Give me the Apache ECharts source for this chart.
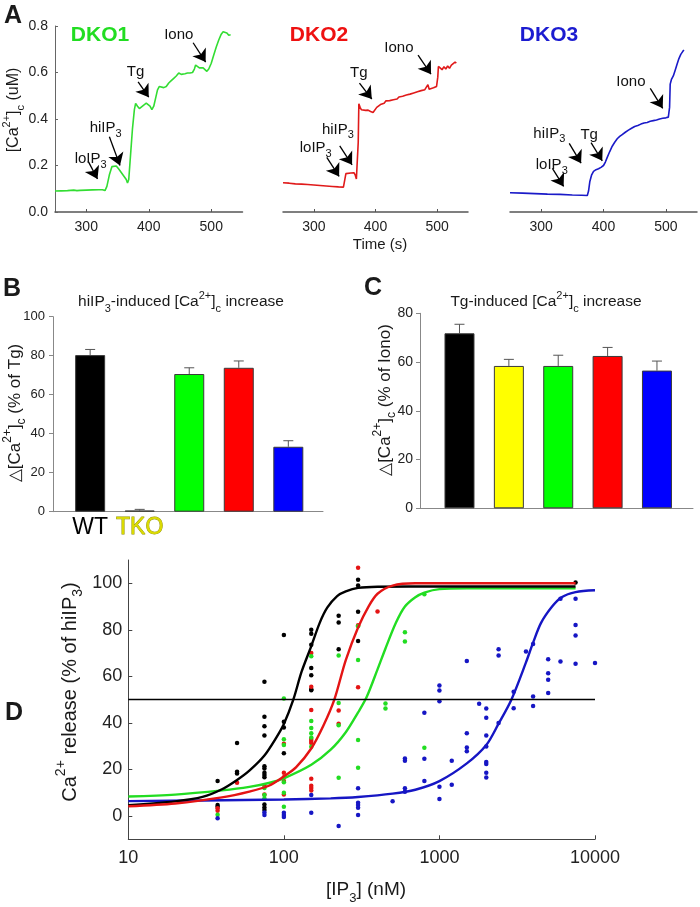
<!DOCTYPE html>
<html>
<head>
<meta charset="utf-8">
<script src="https://cdn.jsdelivr.net/npm/echarts@6.0.0/dist/echarts.min.js"></script>
<style>
html, body { margin: 0; padding: 0; background: #fff; }
#chart { width: 700px; height: 907px; }
</style>
</head>
<body>
<div id="chart"></div>
<script>
// ---- panel A: cytosolic Ca2+ traces [time (s), Ca (uM)] ----
var dko1Trace = [[250,0.090],[260,0.091],[270,0.092],[280,0.094],[285,0.092],[290,0.093],[300,0.094],[310,0.095],[320,0.096],[326,0.096],
  [330,0.092],[333,0.11],[337,0.16],[341,0.195],[344,0.203],[348,0.198],[352,0.185],[356,0.17],[360,0.155],[364,0.14],
  [366,0.125],[368,0.14],[371,0.25],[374,0.36],[377,0.44],[379,0.467],[382,0.455],[385,0.445],[388,0.45],[392,0.46],
  [396,0.468],[399,0.465],[402,0.455],[405,0.44],[408,0.455],[411,0.49],[414,0.525],[417,0.54],[420,0.545],[424,0.535],
  [428,0.54],[432,0.555],[436,0.565],[440,0.575],[444,0.585],[448,0.598],[452,0.592],[455,0.585],[458,0.595],[462,0.598],
  [466,0.598],[470,0.60],[473,0.615],[475,0.632],[478,0.625],[481,0.62],[484,0.618],[487,0.62],[490,0.612],[493,0.605],
  [496,0.615],[500,0.64],[504,0.675],[508,0.71],[512,0.74],[516,0.765],[519,0.775],[522,0.778],[525,0.77],[528,0.76],[531,0.762]];
var dko2Trace = [[250,0.126],[260,0.124],[270,0.121],[280,0.120],[290,0.118],[300,0.116],[310,0.114],[320,0.112],[330,0.110],[340,0.108],
  [348,0.107],[351,0.107],[352,0.165],[355,0.170],[360,0.168],[365,0.169],[367,0.160],[369,0.142],[371,0.140],[372,0.30],
  [373,0.466],[375,0.45],[377,0.44],[380,0.442],[384,0.437],[388,0.438],[392,0.432],[396,0.428],[399,0.43],[402,0.45],
  [405,0.455],[408,0.462],[411,0.47],[414,0.468],[417,0.478],[420,0.483],[423,0.479],[426,0.487],[429,0.483],[432,0.49],
  [435,0.486],[438,0.495],[441,0.492],[444,0.498],[447,0.494],[450,0.503],[453,0.499],[456,0.507],[459,0.504],[462,0.512],
  [465,0.509],[468,0.517],[471,0.514],[474,0.522],[477,0.519],[480,0.526],[483,0.531],[485,0.548],[487,0.528],[490,0.53],
  [494,0.534],[497,0.536],[499,0.54],[501,0.58],[502,0.626],[505,0.62],[508,0.612],[511,0.625],[514,0.615],[517,0.628],
  [520,0.618],[523,0.632],[526,0.628],[529,0.645],[531,0.64]];
var dko3Trace = [[250,0.083],[270,0.081],[290,0.079],[310,0.077],[330,0.076],[350,0.073],[365,0.072],[374,0.071],[376,0.09],[378,0.13],
  [381,0.16],[384,0.175],[388,0.182],[392,0.186],[396,0.192],[400,0.20],[403,0.215],[406,0.235],[410,0.26],[414,0.283],
  [418,0.30],[422,0.315],[426,0.325],[430,0.333],[435,0.343],[440,0.352],[445,0.36],[450,0.368],[455,0.372],[460,0.378],
  [465,0.383],[470,0.385],[475,0.39],[480,0.393],[485,0.396],[490,0.40],[495,0.403],[500,0.405],[504,0.408],[506,0.45],
  [507,0.55],[509,0.57],[512,0.585],[515,0.61],[518,0.635],[521,0.66],[524,0.678],[527,0.69],[529,0.697]];

// arrow annotations, in data units of each trace panel
var dko1Notes = [
  {label: 'loIP{sub|3}', at: [307, 0.227], from: [303, 0.219], to: [318, 0.142]},
  {label: 'hiIP{sub|3}', at: [331, 0.36], from: [337, 0.324], to: [354, 0.2]},
  {label: 'Tg', at: [379, 0.601], from: [383, 0.56], to: [400, 0.494]},
  {label: 'Iono', at: [448, 0.761], from: [471, 0.728], to: [491, 0.645]}
];
var dko2Notes = [
  {label: 'loIP{sub|3}', at: [303, 0.274], from: [321, 0.235], to: [341, 0.153]},
  {label: 'hiIP{sub|3}', at: [339, 0.353], from: [342, 0.284], to: [362, 0.203]},
  {label: 'Tg', at: [373, 0.597], from: [374, 0.554], to: [394, 0.486]},
  {label: 'Iono', at: [438, 0.704], from: [469, 0.675], to: [490, 0.593]}
];
var dko3Notes = [
  {label: 'hiIP{sub|3}', at: [313, 0.338], from: [345, 0.295], to: [364, 0.21]},
  {label: 'loIP{sub|3}', at: [317, 0.202], from: [318, 0.188], to: [336, 0.11]},
  {label: 'Tg', at: [377, 0.331], from: [380, 0.298], to: [398, 0.22]},
  {label: 'Iono', at: [444, 0.56], from: [475, 0.532], to: [495, 0.446]}
];

// ---- panels B and C: bar means and SEM ----
var barNames = ['WT', 'TKO', 'DKO1', 'DKO2', 'DKO3'];
var bLabels = ['WT', 'TKO', '', '', ''];
var hiIP3Mean = [80.3, 0.6, 70.6, 73.8, 33.3];
var hiIP3Sem = [2.9, 0.6, 3.2, 3.5, 3.1];
var tgMean = [71.8, 58.4, 58.4, 62.5, 56.5];
var tgSem = [3.7, 2.7, 4.4, 3.5, 3.9];

// ---- panel D: IP3 dose response [IP3 nM, % of hiIP3] ----
var wtDots = [[37.5,15],[37.5,4.7],[37.5,4],[50,31.4],[50,19],[50,18.3],
  [75,57.7],[75,42.6],[75,38.6],[75,34.6],[75,21.4],[75,20.4],[75,18.6],[75,17.6],[75,16.7],[75,5],[75,3.7],[75,2.6],
  [100,77.8],[100,40.5],[100,38],[100,27],[150,80],[150,78.3],[150,73.6],[150,63.6],[150,60.5],[150,54.5],[150,54],
  [225,86],[225,83.1],[225,71.7],[300,101.5],[300,99],[300,87.8],[300,75.2],[7500,100.3]];
var dko2Dots = [[37.5,3.3],[37.5,2.3],[50,14.3],[75,13],[75,9.3],
  [100,31],[100,18.6],[100,16.7],[100,15],[100,9.3],
  [150,70],[150,55.5],[150,45.6],[150,33.1],[150,32.2],[150,31.4],[150,16],[150,13],[150,12],[150,11],
  [225,45.3],[225,39.6],[300,106.7],[300,82],[300,55.3],[400,87.9]];
var dko1Dots = [[37.5,0.5],[75,12],[75,9],[75,7.5],
  [100,50.5],[100,33],[100,30.5],[100,14.5],[100,10],[100,4],
  [150,68.6],[150,40.8],[150,37.8],[150,35.6],[150,33.7],[150,29.8],
  [225,69],[225,48.6],[225,39],[225,16.4],[300,81.5],[300,67],[300,32.7],[300,20.7],
  [450,48.3],[450,46.2],[600,79],[600,75],[800,95.3],[800,29.3]];
var dko3Dots = [[37.5,-1],[75,1.5],[75,0.4],[100,1.4],[100,0.4],[100,-0.4],[150,9],[150,1.4],[225,-4.3],
  [300,11.9],[300,5.7],[300,4.7],[300,3.6],[300,0.4],[500,6.4],
  [600,24.7],[600,23.7],[600,11.9],[600,10.4],[800,44.4],[800,24.6],[800,15.1],
  [1000,56.1],[1000,53.9],[1000,49.3],[1000,12.6],[1000,7.3],[1200,23.7],[1200,13.4],
  [1500,66.6],[1500,35.6],[1500,29.4],[1500,27.8],[1800,48.2],
  [2000,46.2],[2000,42.2],[2000,34.6],[2000,29.9],[2000,23.2],[2000,22.4],[2000,18.6],[2000,16.6],
  [2400,71.7],[2400,69],[2400,40],[3000,53.4],[3000,46.3],[3600,70.7],[4000,73.9],[4000,51.4],[4000,47.3],
  [5000,67.4],[5000,61.3],[5000,58.6],[5000,52.9],[6000,93.4],[6000,66.4],
  [7500,93.4],[7500,82.1],[7500,77.6],[7500,65.4],[10000,65.7]];

// fitted curves
var wtFit = [[10,4.6],[20,6.3],[30,8.2],[40,11.5],[50,15.5],[60,19.5],[75,26],[90,34],[100,39.5],[115,50],[130,62],
  [150,73],[170,83],[190,89.5],[220,94.5],[250,96.5],[300,98],[400,98.5],[1000,98.6],[7500,98.6]];
var dko2Fit = [[10,4.2],[20,5.4],[40,8],[60,10.5],[80,13],[100,17],[120,21],[150,29],[180,39],[211,50],[250,67],
  [300,81],[350,90],[400,95.5],[500,99],[700,100],[7500,100]];
var dko1Fit = [[10,8.4],[20,9.2],[40,11],[60,12.5],[80,14.2],[100,16.2],[150,22],[200,28.5],[250,36],[300,44.5],
  [340,51],[400,63],[450,72],[525,83],[600,90],[700,94],[800,96],[1000,97.5],[1500,97.8],[7500,97.8]];
var dko3Fit = [[10,6.4],[30,6.7],[100,7.1],[200,7.6],[300,8.2],[500,9.6],[700,11.3],[1000,15],[1500,22.6],[2000,30.5],
  [2400,39.7],[2900,50],[3600,66],[4000,74.5],[4500,83],[5300,90],[6100,94],[7500,96.2],[10000,97]];
var halfLine = 50;

// ---- styling ----
var FONT = "'Liberation Sans', Arial, Helvetica, sans-serif";
var traceColors = ['#33dd33', '#e01a1a', '#1a1ac8'];
var barColors = ['#000000', '#ffff00', '#00ff00', '#ff0000', '#0000ff'];
var dColors = {wt: '#000000', dko1: '#22dd22', dko2: '#e41414', dko3: '#1616c4'};

function fnt(size, bold) { return (bold ? 'bold ' : '') + size + 'px ' + FONT; }

function labelRich(size) {
  var s = Math.round(size * 0.7);
  return {
    sup: {fontSize: s, fontFamily: FONT, verticalAlign: 'top', lineHeight: s + 1},
    sub: {fontSize: s, fontFamily: FONT, verticalAlign: 'bottom', lineHeight: s + 1}
  };
}
function graphicRich(size) {
  var s = Math.round(size * 0.7);
  return {
    sup: {font: fnt(s), verticalAlign: 'top', lineHeight: s + 1},
    sub: {font: fnt(s), verticalAlign: 'bottom', lineHeight: s + 1}
  };
}

var textItems = [
  {t: 'A', x: 13, y: 16, size: 25, bold: true},
  {t: 'DKO1', x: 100, y: 35, size: 21, bold: true, color: '#22dd22'},
  {t: 'DKO2', x: 319, y: 35, size: 21, bold: true, color: '#ee1111'},
  {t: 'DKO3', x: 549, y: 35, size: 21, bold: true, color: '#1c1cd0'},
  {t: '[Ca{sup|2+}]{sub|c} (uM)', x: 13.5, y: 110, size: 16, rot: true},
  {t: 'Time (s)', x: 380, y: 245, size: 15},
  {t: 'B', x: 12, y: 289, size: 25, bold: true},
  {t: 'hiIP{sub|3}-induced [Ca{sup|2+}]{sub|c} increase', x: 181, y: 302, size: 15.5},
  {t: '\u25B3[Ca{sup|2+}]{sub|c} (% of Tg)', x: 15, y: 413, size: 17, rot: true},
  {t: 'C', x: 373, y: 288, size: 25, bold: true},
  {t: 'Tg-induced [Ca{sup|2+}]{sub|c} increase', x: 546, y: 302, size: 15.5},
  {t: '\u25B3[Ca{sup|2+}]{sub|c} (% of Iono)', x: 385, y: 400, size: 17, rot: true},
  {t: 'D', x: 14, y: 713, size: 25, bold: true},
  {t: 'Ca{sup|2+} release (% of hiIP{sub|3})', x: 70, y: 692, size: 20, rot: true},
  {t: '[IP{sub|3}] (nM)', x: 366, y: 890, size: 19}
];

var graphics = textItems.map(function (it) {
  return {
    type: 'text', x: it.x, y: it.y, rotation: it.rot ? Math.PI / 2 : 0, silent: true,
    style: {
      text: it.t, font: fnt(it.size, it.bold), fill: it.color || '#1a1a1a',
      align: 'center', verticalAlign: 'middle', textAlign: 'center', textVerticalAlign: 'middle',
      lineHeight: Math.round(it.size * 1.55), rich: graphicRich(it.size)
    }
  };
});

var axisGray = '#666';

function traceX(grid) {
  return {
    type: 'value', gridIndex: grid, min: 250, max: 550, splitNumber: 3,
    axisLine: {show: true, onZero: false, lineStyle: {color: '#555', width: 1.5}},
    axisTick: {show: true, inside: true, length: 3, lineStyle: {color: '#555'}},
    axisLabel: {showMinLabel: false, showMaxLabel: false, fontSize: 14, fontFamily: FONT, color: '#222', margin: 8},
    splitLine: {show: false}
  };
}
function traceY(grid, show) {
  return {
    type: 'value', gridIndex: grid, min: 0, max: 0.8, interval: 0.2, show: show,
    axisLine: {show: true, lineStyle: {color: axisGray, width: 1}},
    axisTick: {show: true, inside: true, length: 3, lineStyle: {color: axisGray}},
    axisLabel: {fontSize: 14, fontFamily: FONT, color: '#222', margin: 7, formatter: function (v) { return v.toFixed(1); }},
    splitLine: {show: false}
  };
}

function errRender(params, api) {
  var x = api.value(0), m = api.value(1), e = api.value(2);
  var p0 = api.coord([x, m]);
  var p1 = api.coord([x, m + e]);
  var st = {stroke: '#555', lineWidth: 1};
  return {
    type: 'group', children: [
      {type: 'line', shape: {x1: p0[0], y1: p0[1], x2: p1[0], y2: p1[1]}, style: st},
      {type: 'line', shape: {x1: p1[0] - 5, y1: p1[1], x2: p1[0] + 5, y2: p1[1]}, style: st}
    ]
  };
}

var series = [];

[dko1Trace, dko2Trace, dko3Trace].forEach(function (tr, i) {
  var notes = [dko1Notes, dko2Notes, dko3Notes][i];
  series.push({
    type: 'line', xAxisIndex: i, yAxisIndex: i, data: tr, showSymbol: false, z: 2,
    lineStyle: {width: 1.6, color: traceColors[i]}, itemStyle: {color: traceColors[i]},
    markLine: {
      silent: true, symbol: ['none', 'arrow'], symbolSize: 12, animation: false,
      lineStyle: {color: '#000', width: 1.3, type: 'solid'}, label: {show: false},
      emphasis: {disabled: true},
      data: notes.map(function (n) { return [{coord: n.from}, {coord: n.to}]; })
    },
    markPoint: {
      silent: true, symbol: 'rect', symbolSize: 1, itemStyle: {color: 'rgba(0,0,0,0)'}, animation: false,
      label: {
        show: true, position: 'inside', color: '#111', fontSize: 15, fontFamily: FONT, lineHeight: 22,
        rich: labelRich(15), formatter: function (p) { return p.name; }
      },
      data: notes.map(function (n) { return {name: n.label, coord: n.at}; })
    }
  });
});

function barSeries(grid, means, labels) {
  return {
    type: 'bar', xAxisIndex: grid, yAxisIndex: grid, barWidth: 30, z: 3,
    itemStyle: {borderColor: '#3a3a3a', borderWidth: 1},
    data: means.map(function (v, i) {
      var item = {value: [i + 1, v], name: barNames[i], itemStyle: {color: barColors[i]}};
      if (labels && labels[i]) {
        item.label = {
          show: true, position: 'bottom', distance: 4, formatter: labels[i],
          fontSize: 23, fontFamily: FONT,
          color: i === 1 ? '#dada00' : '#000',
          textBorderColor: i === 1 ? '#8f8f00' : 'transparent', textBorderWidth: i === 1 ? 0.8 : 0
        };
      }
      return item;
    })
  };
}
function errSeries(grid, means, sems) {
  return {
    type: 'custom', xAxisIndex: grid, yAxisIndex: grid, z: 2, renderItem: errRender,
    encode: {x: 0, y: 1},
    data: means.map(function (v, i) { return [i + 1, v, sems[i]]; })
  };
}
series.push(errSeries(3, hiIP3Mean, hiIP3Sem));
series.push(barSeries(3, hiIP3Mean, bLabels));
series.push(errSeries(4, tgMean, tgSem));
series.push(barSeries(4, tgMean, null));

[[wtDots, dColors.wt], [dko2Dots, dColors.dko2], [dko1Dots, dColors.dko1], [dko3Dots, dColors.dko3]].forEach(function (d) {
  series.push({type: 'scatter', xAxisIndex: 5, yAxisIndex: 5, data: d[0], symbolSize: 4.5, z: 2,
    itemStyle: {color: d[1], opacity: 1}});
});
[[dko3Fit, dColors.dko3], [dko1Fit, dColors.dko1], [wtFit, dColors.wt], [dko2Fit, dColors.dko2]].forEach(function (d, k) {
  var s = {type: 'line', xAxisIndex: 5, yAxisIndex: 5, data: d[0], showSymbol: false, smooth: 0.3, z: 3,
    lineStyle: {width: 2.4, color: d[1]}, itemStyle: {color: d[1]}};
  if (k === 0) {
    s.markLine = {silent: true, symbol: 'none', animation: false, label: {show: false},
      lineStyle: {color: '#000', width: 1.3, type: 'solid'}, data: [{yAxis: halfLine}]};
  }
  series.push(s);
});

var chart = echarts.init(document.getElementById('chart'), null, {renderer: 'canvas'});
chart.setOption({
  backgroundColor: '#fff',
  animation: false,
  textStyle: {fontFamily: FONT},
  grid: [
    {left: 55, top: 26, width: 187.5, height: 186, outerBoundsMode: 'none'},
    {left: 283, top: 26, width: 185, height: 186, outerBoundsMode: 'none'},
    {left: 510, top: 26, width: 187, height: 186, outerBoundsMode: 'none'},
    {left: 53, top: 316.7, width: 270, height: 195, outerBoundsMode: 'none'},
    {left: 420, top: 313.3, width: 273, height: 195, outerBoundsMode: 'none'},
    {left: 128.3, top: 560, width: 466.7, height: 279.3, outerBoundsMode: 'none'}
  ],
  xAxis: [
    traceX(0), traceX(1), traceX(2),
    {type: 'value', gridIndex: 3, min: 0.25, max: 5.7, axisLabel: {show: false}, axisTick: {show: false},
      axisLine: {show: true, onZero: false, lineStyle: {color: '#888'}}, splitLine: {show: false}},
    {type: 'value', gridIndex: 4, min: 0.2, max: 5.73, axisLabel: {show: false}, axisTick: {show: false},
      axisLine: {show: true, onZero: false, lineStyle: {color: '#888'}}, splitLine: {show: false}},
    {type: 'log', logBase: 10, gridIndex: 5, min: 10, max: 10000,
      axisLine: {show: true, onZero: false, lineStyle: {color: '#444', width: 1}},
      axisTick: {show: true, inside: true, length: 4, lineStyle: {color: '#444'}},
      minorTick: {show: false},
      axisLabel: {fontSize: 18, fontFamily: FONT, color: '#222', margin: 10,
        formatter: function (v) { return String(Math.round(v)); }},
      splitLine: {show: false}}
  ],
  yAxis: [
    traceY(0, true), traceY(1, false), traceY(2, false),
    {type: 'value', gridIndex: 3, min: 0, max: 100, interval: 20,
      axisLine: {show: true, lineStyle: {color: '#888'}},
      axisTick: {show: true, inside: false, length: 4, lineStyle: {color: '#888'}},
      axisLabel: {fontSize: 13, fontFamily: FONT, color: '#222', margin: 8}, splitLine: {show: false}},
    {type: 'value', gridIndex: 4, min: 0, max: 80, interval: 20,
      axisLine: {show: true, lineStyle: {color: '#888'}},
      axisTick: {show: true, inside: false, length: 4, lineStyle: {color: '#888'}},
      axisLabel: {fontSize: 14, fontFamily: FONT, color: '#222', margin: 7}, splitLine: {show: false}},
    {type: 'value', gridIndex: 5, min: -10, max: 110, splitNumber: 6, minInterval: 20, maxInterval: 20,
      axisLine: {show: true, lineStyle: {color: '#444', width: 1}},
      axisTick: {show: true, inside: true, length: 4, lineStyle: {color: '#444'}},
      axisLabel: {showMinLabel: false, showMaxLabel: false, fontSize: 18, fontFamily: FONT, color: '#222', margin: 6},
      splitLine: {show: false}}
  ],
  graphic: graphics,
  series: series
});
</script>
</body>
</html>
